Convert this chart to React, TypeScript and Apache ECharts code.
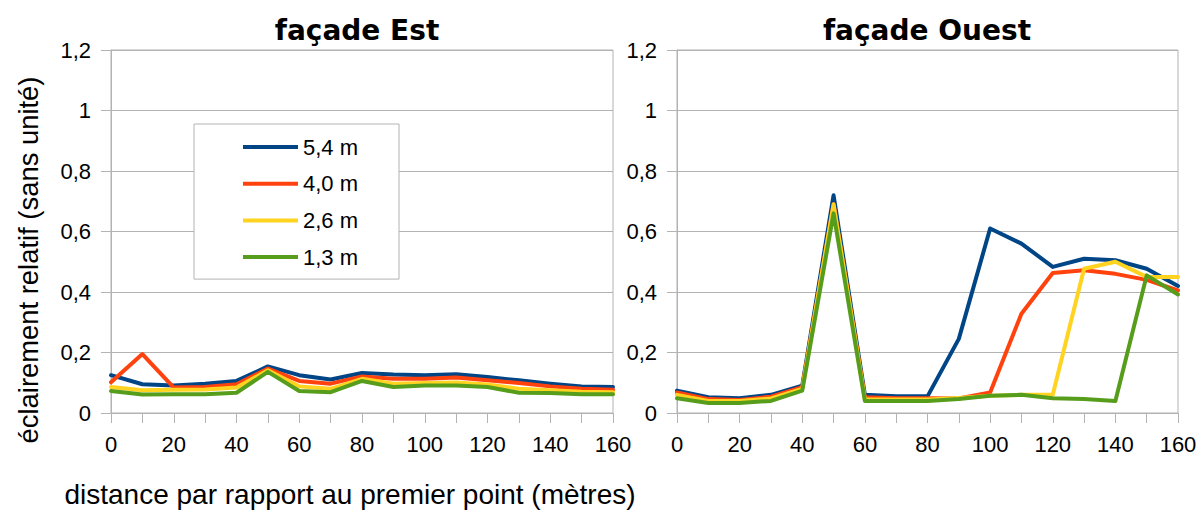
import React, { useEffect, useRef } from "react";
import * as echarts from "echarts";

const distances = ["0", "10", "20", "30", "40", "50", "60", "70", "80", "90", "100", "110", "120", "130", "140", "150", "160"];
const seriesNames = ["5,4 m", "4,0 m", "2,6 m", "1,3 m"];
const seriesColors = ["#004586", "#ff420e", "#ffd320", "#579d1c"];

const estH54 = [0.125, 0.095, 0.091, 0.097, 0.106, 0.154, 0.125, 0.111, 0.132, 0.127, 0.125, 0.128, 0.119, 0.108, 0.097, 0.088, 0.086];
const estH40 = [0.102, 0.195, 0.084, 0.086, 0.095, 0.147, 0.106, 0.097, 0.121, 0.113, 0.113, 0.117, 0.108, 0.099, 0.088, 0.08, 0.077];
const estH26 = [0.086, 0.075, 0.077, 0.078, 0.084, 0.141, 0.088, 0.08, 0.113, 0.097, 0.099, 0.101, 0.094, 0.08, 0.075, 0.07, 0.069];
const estH13 = [0.073, 0.061, 0.062, 0.062, 0.067, 0.136, 0.073, 0.069, 0.106, 0.086, 0.091, 0.091, 0.086, 0.067, 0.066, 0.062, 0.062];

const ouestH54 = [0.074, 0.052, 0.049, 0.06, 0.09, 0.72, 0.06, 0.055, 0.055, 0.245, 0.61, 0.56, 0.483, 0.51, 0.505, 0.477, 0.42];
const ouestH40 = [0.068, 0.046, 0.043, 0.054, 0.085, 0.69, 0.052, 0.049, 0.049, 0.048, 0.068, 0.328, 0.463, 0.472, 0.46, 0.44, 0.405];
const ouestH26 = [0.06, 0.04, 0.04, 0.048, 0.08, 0.69, 0.045, 0.045, 0.045, 0.05, 0.057, 0.06, 0.06, 0.477, 0.5, 0.45, 0.45];
const ouestH13 = [0.049, 0.033, 0.033, 0.04, 0.074, 0.66, 0.04, 0.04, 0.04, 0.046, 0.057, 0.06, 0.049, 0.046, 0.04, 0.455, 0.392];

const panelTitles = ["façade Est", "façade Ouest"];
const xAxisTitle = "distance par rapport au premier point (mètres)";
const yAxisTitle = "éclairement relatif (sans unité)";

const estData = [estH54, estH40, estH26, estH13];
const ouestData = [ouestH54, ouestH40, ouestH26, ouestH13];

const GRID_COLOR = "#b3b3b3";
const TICK_FONT = "Liberation Sans";

export default function App() {
  const ref = useRef<HTMLDivElement>(null);

  useEffect(() => {
    if (!ref.current) return;
    const chart = echarts.init(ref.current, null, { renderer: "svg" });

    const makeX = (gridIndex: number) => ({
      type: "category",
      gridIndex,
      data: distances,
      boundaryGap: false,
      axisLine: { show: true, lineStyle: { color: GRID_COLOR, width: 1 } },
      axisTick: { show: true, interval: 0, length: 10, lineStyle: { color: GRID_COLOR } },
      axisLabel: { interval: 1, margin: 20, color: "#000", fontFamily: TICK_FONT, fontSize: 22 },
      splitLine: { show: false },
    });
    const makeY = (gridIndex: number) => ({
      type: "value",
      gridIndex,
      min: 0,
      max: 1.2,
      interval: 0.2,
      axisLine: { show: true, lineStyle: { color: GRID_COLOR, width: 1 } },
      axisTick: { show: true, length: 10, lineStyle: { color: GRID_COLOR } },
      axisLabel: {
        margin: 20,
        color: "#000",
        fontFamily: TICK_FONT,
        fontSize: 22,
        formatter: (v: number) => String(Math.round(v * 10) / 10).replace(".", ","),
      },
      splitLine: { show: true, lineStyle: { color: GRID_COLOR, width: 1 } },
    });

    const series: any[] = [];
    [estData, ouestData].forEach((panel, gi) => {
      panel.forEach((d, si) => {
        series.push({
          type: "line",
          name: seriesNames[si],
          xAxisIndex: gi,
          yAxisIndex: gi,
          data: d,
          showSymbol: false,
          symbol: "none",
          lineStyle: { width: 4, color: seriesColors[si], join: "round", cap: "round" },
          itemStyle: { color: seriesColors[si] },
          z: 2 + si,
        });
      });
    });

    chart.setOption({
      animation: false,
      backgroundColor: "#ffffff",
      color: seriesColors,
      title: [
        {
          text: panelTitles[0],
          left: 352,
          top: 11,
          textAlign: "center",
          textStyle: { fontFamily: "DejaVu Sans", fontWeight: "bold", fontSize: 28, color: "#000" },
        },
        {
          text: panelTitles[1],
          left: 922,
          top: 11,
          textAlign: "center",
          textStyle: { fontFamily: "DejaVu Sans", fontWeight: "bold", fontSize: 28, color: "#000" },
        },
      ],
      legend: {
        left: 194,
        top: 124,
        orient: "vertical",
        data: seriesNames,
        icon: "rect",
        itemWidth: 55,
        itemHeight: 4,
        itemGap: 14.7,
        padding: [12, 41, 11, 49],
        backgroundColor: "#ffffff",
        borderColor: GRID_COLOR,
        borderWidth: 1,
        borderRadius: 0,
        selectedMode: false,
        textStyle: { fontFamily: TICK_FONT, fontSize: 22, lineHeight: 22, color: "#000" },
      },
      grid: [
        { left: 111, right: 591, top: 50, bottom: 100, show: true, borderColor: GRID_COLOR, borderWidth: 1, backgroundColor: "transparent" },
        { left: 677, right: 26, top: 50, bottom: 100, show: true, borderColor: GRID_COLOR, borderWidth: 1, backgroundColor: "transparent" },
      ],
      xAxis: [makeX(0), makeX(1)],
      yAxis: [makeY(0), makeY(1)],
      series,
      graphic: [
        {
          type: "text",
          x: 350,
          y: 494,
          style: {
            text: xAxisTitle,
            fontFamily: TICK_FONT,
            fontSize: 28,
            fill: "#000",
            align: "center",
            verticalAlign: "middle",
          },
        },
        {
          type: "text",
          x: 28,
          y: 260,
          rotation: Math.PI / 2,
          style: {
            text: yAxisTitle,
            fontFamily: TICK_FONT,
            fontSize: 27.4,
            fill: "#000",
            align: "center",
            verticalAlign: "middle",
          },
        },
      ],
    });

    return () => chart.dispose();
  }, []);

  return (
    <div
      ref={ref}
      style={{ position: "fixed", left: 0, top: 0, width: 1204, height: 513, background: "#fff" }}
    />
  );
}
